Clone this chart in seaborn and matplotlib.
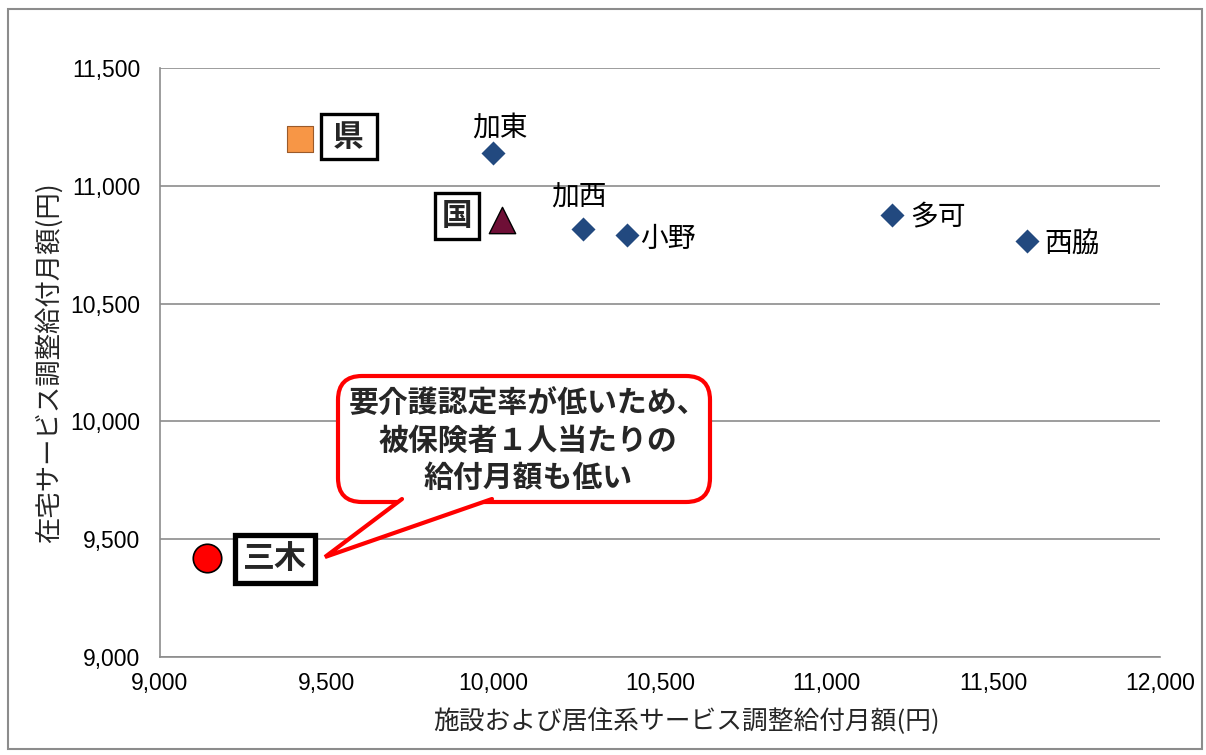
import numpy as np
import pandas as pd
import matplotlib
matplotlib.use("Agg")
import matplotlib.pyplot as plt
import matplotlib.ticker as ticker
from matplotlib.patches import FancyBboxPatch, Polygon, Rectangle
from matplotlib.lines import Line2D
import seaborn as sns

# 近隣市町
towns = ["加東", "加西", "小野", "多可", "西脇"]
towns_x = [10000, 10270, 10400, 11195, 11600]
towns_y = [11140, 10815, 10790, 10875, 10765]

# 県・国・三木
refs = ["県", "国", "三木"]
refs_x = [9420, 10025, 9140]
refs_y = [11200, 10855, 9420]

x_ticks = [9000, 9500, 10000, 10500, 11000, 11500, 12000]
y_ticks = [9000, 9500, 10000, 10500, 11000, 11500]

x_label = "施設および居住系サービス調整給付月額(円)"
y_label = "在宅サービス調整給付月額(円)"
note = "要介護認定率が低いため、\n被保険者１人当たりの\n給付月額も低い"

df_towns = pd.DataFrame({"name": towns, "x": towns_x, "y": towns_y})
df_refs = pd.DataFrame({"name": refs, "x": refs_x, "y": refs_y})

sns.set_theme(style="white")
plt.rcParams["font.family"] = ["Liberation Sans", "Noto Sans CJK JP", "DejaVu Sans"]
jp = ["Noto Sans CJK JP", "DejaVu Sans"]

W, H = 1206, 755
fig = plt.figure(figsize=(W / 100, H / 100), dpi=100)
ax = fig.add_axes([160 / W, 1 - 657 / H, 1000 / W, 589 / H])

# 外枠
fig.patches.append(Rectangle((8 / W, 6 / H), 1194 / W, 740 / H, transform=fig.transFigure,
                             fill=False, ec="#8c8c8c", lw=1.5, zorder=0))

sns.scatterplot(data=df_towns, x="x", y="y", marker="D", s=150, color="#22497f",
                linewidth=0, ax=ax, zorder=5, legend=False)

ref_style = {
    "県": dict(marker="s", s=340, color="#f79646", edgecolor="#9a5a2a", linewidth=0.8),
    "国": dict(marker="^", s=360, color="#6e0f36", edgecolor="black", linewidth=1.0),
    "三木": dict(marker="o", s=420, color="#ff0000", edgecolor="black", linewidth=1.2),
}
for name in refs:
    sub = df_refs[df_refs["name"] == name]
    sns.scatterplot(data=sub, x="x", y="y", ax=ax, zorder=5, legend=False, **ref_style[name])

# 市町名ラベル (オフセットはポイント単位)
town_offsets = {
    "加東": (5, 18, "center"),
    "加西": (-3, 23, "center"),
    "小野": (10, -3, "left"),
    "多可": (13, -1, "left"),
    "西脇": (13, -2, "left"),
}
for n, x, y in zip(towns, towns_x, towns_y):
    dx, dy, ha = town_offsets[n]
    ax.annotate(n, (x, y), xytext=(dx, dy), textcoords="offset points",
                ha=ha, va="center", fontsize=20, family=jp, color="black")

# 枠付きラベル
box_labels = {"県": "\u2009県\u2009", "国": "国", "三木": "三木"}
box_offsets = {"県": (35, 1.5, 22, 2.4, 0.22), "国": (-32, 3, 22, 2.4, 0.22), "三木": (49, -1, 23, 3.8, 0.25)}
for n, x, y in zip(refs, refs_x, refs_y):
    dx, dy, fs, lw, pad = box_offsets[n]
    ax.annotate(box_labels[n], (x, y), xytext=(dx, dy), textcoords="offset points",
                ha="center", va="center", fontsize=fs, family=jp, fontweight="bold",
                bbox=dict(boxstyle=f"square,pad={pad}", fc="white", ec="black", lw=lw), zorder=6)

ax.set_xlim(9000, 12000)
ax.set_ylim(9000, 11500)
ax.set_xticks(x_ticks)
ax.set_yticks(y_ticks)
fmt = ticker.StrMethodFormatter("{x:,.0f}")
ax.xaxis.set_major_formatter(fmt)
ax.yaxis.set_major_formatter(fmt)
ax.grid(axis="y", color="#8c8c8c", lw=1.2)
ax.grid(axis="x", visible=False)
ax.set_axisbelow(True)
for side in ["top", "right"]:
    ax.spines[side].set_visible(False)
for side in ["left", "bottom"]:
    ax.spines[side].set_color("#8c8c8c")
    ax.spines[side].set_linewidth(1.2)
ax.tick_params(axis="both", direction="out", length=5, width=1.2, color="#8c8c8c",
               labelsize=16.5, labelcolor="black")
ax.tick_params(axis="y", pad=9)
ax.tick_params(axis="x", pad=6)
ax.set_xlabel(x_label, fontsize=18.5, family=jp)
ax.set_ylabel(y_label, fontsize=19, family=jp)
ax.xaxis.set_label_coords(0.526, -0.085)
ax.yaxis.set_label_coords(-0.097, 0.5)

# 吹き出し
def px(x, y):
    return (x / W, 1 - y / H)

bx0, by0 = px(338, 502)
bx1, by1 = px(710, 376)
r = 24 / W
callout = FancyBboxPatch((bx0 + r, by0 + r * W / H), (bx1 - bx0) - 2 * r, (by1 - by0) - 2 * r * W / H,
                         boxstyle=f"round,pad={r},rounding_size={r}", mutation_aspect=W / H,
                         transform=fig.transFigure, fc="white", ec="#ff0000", lw=3, zorder=10)
fig.patches.append(callout)
tail_fill = [px(403, 498), px(326, 556), px(491, 498)]
fig.patches.append(Polygon(tail_fill, closed=True, transform=fig.transFigure, fc="white", ec="none", zorder=11))
tail_line = [px(402, 499), px(325, 557), px(492, 499)]
fig.lines.append(Line2D([p[0] for p in tail_line], [p[1] for p in tail_line],
                        transform=fig.transFigure, color="#ff0000", lw=3, zorder=12,
                        solid_joinstyle="miter"))
cx, cy = px(528, 441)
fig.text(cx, cy, note, ha="center", va="center", fontsize=21.5, family=jp, fontweight="bold",
         linespacing=1.28, zorder=13)

fig.savefig("out.png", dpi=100)
